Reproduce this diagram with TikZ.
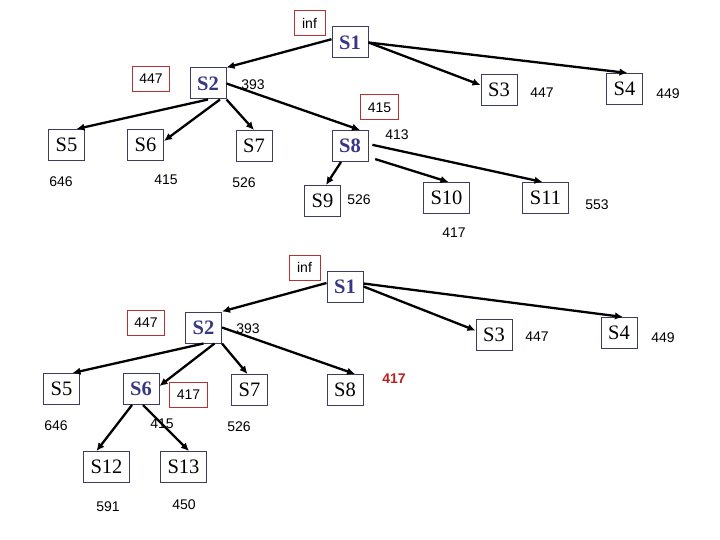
\documentclass[tikz,border=0pt]{standalone}
\usepackage{fontspec}
\setmainfont{Liberation Serif}
\newfontfamily\numfont{Liberation Sans}
\usetikzlibrary{arrows.meta}
\definecolor{navy}{RGB}{60,60,95}
\definecolor{sblue}{RGB}{55,55,130}
\definecolor{rbox}{RGB}{180,50,50}
\definecolor{rtext}{RGB}{190,30,30}
\tikzset{
  sbox/.style={draw=navy, line width=1pt, minimum width=36pt, minimum height=31pt, inner sep=0pt, font=\fontsize{20.5}{20.5}\selectfont},
  wbox/.style={sbox, minimum width=46pt},
  hot/.style={text=sblue, font=\fontsize{20.5}{20.5}\selectfont\bfseries},
  rb/.style={draw=rbox, line width=1pt, minimum height=25pt, minimum width=31pt, inner xsep=7pt, inner ysep=0pt, font=\numfont\fontsize{14}{14}\selectfont},
  num/.style={inner sep=0pt, font=\numfont\fontsize{14}{14}\selectfont},
  arr/.style={line width=2.3pt, -{Latex[length=8pt,width=7.5pt]}}
}
\begin{document}
\begin{tikzpicture}[x=1pt,y=-1pt]
\useasboundingbox (0,0) rectangle (720,540);
% ---------- top tree ----------
\node[rb] (ainf) at (309.5,23.5) {inf};
\node[sbox,hot] (aS1) at (350,42.5) {S1};
\node[rb] (a447) at (151,79) {447};
\node[sbox,hot] (aS2) at (208,83.5) {S2};
\node[num] (a393) at (253,85) {393};
\node[sbox] (aS3) at (499,90) {S3};
\node[num] (a447b) at (542,93) {447};
\node[sbox] (aS4) at (624.5,89) {S4};
\node[num] (a449) at (668,94) {449};
\node[rb] (a415r) at (379.5,107.5) {415};
\node[num] (a413) at (397,135) {413};
\node[sbox] (aS5) at (66.5,145) {S5};
\node[sbox] (aS6) at (145.5,145) {S6};
\node[sbox] (aS7) at (254,146) {S7};
\node[sbox,hot] (aS8) at (350,146) {S8};
\node[num] (a646) at (61,182) {646};
\node[num] (a415) at (166,180) {415};
\node[num] (a526) at (244,183) {526};
\node[sbox] (aS9) at (322.5,201) {S9};
\node[num] (a526b) at (359,200) {526};
\node[wbox] (aS10) at (446.5,198) {S10};
\node[wbox] (aS11) at (545.5,198) {S11};
\node[num] (a553) at (597,205) {553};
\node[num] (a417) at (454,233) {417};
\draw[arr] (aS1.170) -- (aS2.north east);
\draw[arr] (aS1.east) -- ([xshift=3pt]aS4.north);
\draw[arr] (aS1.east) -- ([yshift=5pt]aS3.west);
\draw[arr] (aS2.south) -- ([xshift=10pt]aS5.north);
\draw[arr] ([xshift=12pt]aS2.south) -- ([yshift=4pt]aS6.east);
\draw[arr] (aS2.south east) -- (aS7.north);
\draw[arr] (aS2.east) -- ([xshift=10pt]aS8.north);
\draw[arr] ([xshift=-9pt]aS8.south) -- ([xshift=3.5pt]aS9.north);
\draw[arr, shorten <=4pt] ([yshift=2pt]aS8.east) -- ([xshift=-3pt]aS11.north);
\draw[arr, shorten <=7pt] ([yshift=-11pt]aS8.east) -- ([xshift=2pt]aS10.north);
% ---------- bottom tree ----------
\node[rb] (binf) at (304.5,267.5) {inf};
\node[sbox,hot] (bS1) at (345,286.5) {S1};
\node[rb] (b447) at (146,322.5) {447};
\node[sbox,hot] (bS2) at (203.5,327.5) {S2};
\node[num] (b393) at (248,329) {393};
\node[sbox] (bS3) at (494,334.5) {S3};
\node[num] (b447b) at (537,337) {447};
\node[sbox] (bS4) at (619,333) {S4};
\node[num] (b449) at (663,338) {449};
\node[sbox] (bS5) at (61.5,389) {S5};
\node[sbox,hot] (bS6) at (141,389) {S6};
\node[rb] (b417r) at (188.5,395) {417};
\node[sbox] (bS7) at (249.5,390) {S7};
\node[sbox] (bS8) at (345,390) {S8};
\node[num, text=rtext, font=\numfont\fontsize{14}{14}\selectfont\bfseries] (b417) at (394,379) {417};
\node[num] (b646) at (56,426) {646};
\node[num] (b415) at (162,424) {415};
\node[num] (b526) at (239,427) {526};
\node[wbox] (bS12) at (106.5,467) {S12};
\node[wbox] (bS13) at (183.5,467) {S13};
\node[num] (b591) at (108,507) {591};
\node[num] (b450) at (184,505) {450};
\draw[arr] ([yshift=3.5pt]bS1.west) -- (bS2.north east);
\draw[arr] ([yshift=3pt]bS1.east) -- ([xshift=4pt]bS4.north);
\draw[arr] (bS1.east) -- ([yshift=4pt]bS3.west);
\draw[arr] (bS2.south) -- ([xshift=11pt]bS5.north);
\draw[arr] ([xshift=11pt]bS2.south) -- ([yshift=3pt]bS6.east);
\draw[arr] (bS2.south east) -- ([xshift=-2pt]bS7.north);
\draw[arr] (bS2.east) -- ([xshift=10pt]bS8.north);
\draw[arr] ([xshift=-9pt]bS6.south) -- ([xshift=-10pt]bS12.north);
\draw[arr] ([xshift=2pt]bS6.south) -- ([xshift=5.5pt]bS13.north);
\end{tikzpicture}
\end{document}
